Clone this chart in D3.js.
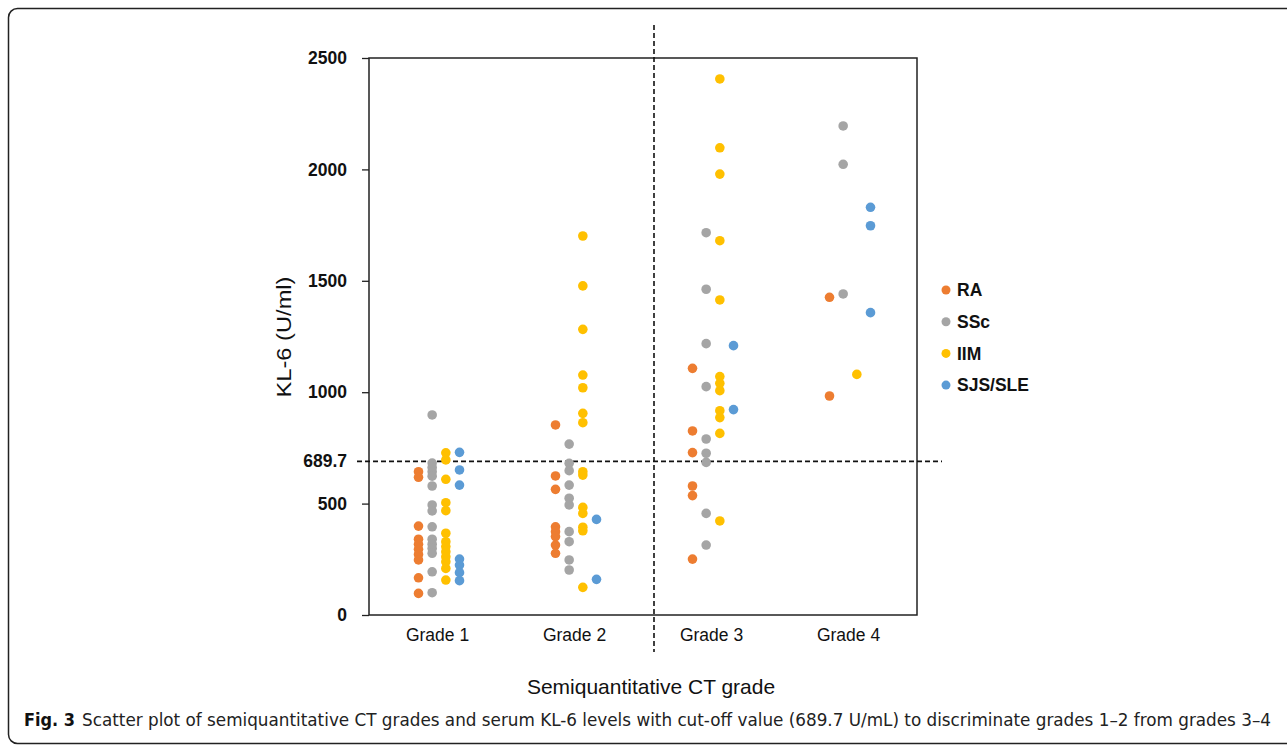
<!DOCTYPE html>
<html>
<head>
<meta charset="utf-8">
<script src="https://cdn.jsdelivr.net/npm/d3@7"></script>
<style>
  body { margin: 0; background: #fff; }
  svg { display: block; }
</style>
</head>
<body>
<script>
// categories and series
var grades = ["Grade 1", "Grade 2", "Grade 3", "Grade 4"];
var series = ["RA", "SSc", "IIM", "SJS/SLE"];
var colors = ["#ED7D31", "#A5A5A5", "#FFC000", "#5B9BD5"];

// KL-6 values (U/ml) per grade, one array for each series
var raValues = [
  [643, 618, 399, 340, 317, 295, 272, 247, 167, 97],
  [853, 624, 564, 396, 374, 352, 314, 277],
  [1107, 826, 729, 579, 536, 251],
  [1426, 983]
];
var sscValues = [
  [898, 682, 662, 643, 623, 579, 494, 467, 396, 340, 318, 299, 277, 194, 100],
  [767, 681, 648, 583, 524, 494, 374, 329, 247, 202],
  [1716, 1462, 1218, 1025, 790, 726, 685, 456, 314],
  [2195, 2023, 1441]
];
var iimValues = [
  [728, 696, 609, 504, 468, 367, 329, 307, 284, 262, 239, 209, 157],
  [1701, 1477, 1282, 1077, 1020, 905, 863, 643, 628, 483, 456, 394, 378, 124],
  [2406, 2097, 1979, 1680, 1414, 1070, 1040, 1007, 917, 886, 815, 422],
  [1080]
];
var sjsValues = [
  [730, 651, 583, 251, 224, 190, 154],
  [429, 160],
  [1209, 922],
  [1830, 1747, 1357]
];
var yTicks = [0, 500, 689.7, 1000, 1500, 2000, 2500];
var cutoff = 689.7;

var captionBold = "Fig. 3";
var captionText = "Scatter plot of semiquantitative CT grades and serum KL-6 levels with cut-off value (689.7 U/mL) to discriminate grades 1\u20132 from grades 3\u20134";

var width = 1287, height = 745;
var plotLeft = 369, plotRight = 917, plotTop = 58, plotBottom = 615;

var svg = d3.select("body").append("svg")
  .attr("width", width)
  .attr("height", height);

// outer figure frame (open on the right)
svg.append("rect")
  .attr("x", 8.5).attr("y", 8.5)
  .attr("width", 1320).attr("height", 735)
  .attr("rx", 9)
  .attr("fill", "none")
  .attr("stroke", "#222")
  .attr("stroke-width", 1.5);

var x = d3.scaleBand().domain(grades).range([plotLeft, plotRight]);
var y = d3.scaleLinear().domain([0, 2500]).range([plotBottom, plotTop]);
var offset = d3.scalePoint().domain(series).range([-19, 22]);

// plot box
svg.append("rect")
  .attr("x", plotLeft).attr("y", plotTop)
  .attr("width", plotRight - plotLeft).attr("height", plotBottom - plotTop)
  .attr("fill", "none")
  .attr("stroke", "#222")
  .attr("stroke-width", 1.5);

// y axis
var yAxis = svg.append("g")
  .attr("transform", "translate(" + plotLeft + ",0)")
  .call(d3.axisLeft(y).tickValues(yTicks).tickSize(7).tickPadding(15)
    .tickFormat(function(d) { return d; }));
yAxis.select(".domain").remove();
yAxis.selectAll(".tick line").attr("stroke", "#222").attr("stroke-width", 1.3)
  .filter(function(d) { return d === cutoff; }).remove();
yAxis.selectAll(".tick text")
  .attr("font-family", "Liberation Sans, Arial, sans-serif")
  .attr("font-size", "17.5px")
  .attr("font-weight", "bold")
  .attr("fill", "#111");

// x axis
var xAxis = svg.append("g")
  .attr("transform", "translate(0," + plotBottom + ")")
  .call(d3.axisBottom(x).tickSize(0).tickPadding(14));
xAxis.select(".domain").remove();
xAxis.selectAll(".tick text")
  .attr("font-family", "Liberation Sans, Arial, sans-serif")
  .attr("font-size", "17.5px")
  .attr("fill", "#111");

// cut-off lines
var splitX = (x("Grade 2") + x("Grade 3") + x.bandwidth()) / 2 + 11;
svg.append("line")
  .attr("x1", splitX).attr("x2", splitX)
  .attr("y1", 25).attr("y2", 652)
  .attr("stroke", "#111").attr("stroke-width", 1.6)
  .attr("stroke-dasharray", "5,3");
svg.append("line")
  .attr("x1", 357).attr("x2", 942)
  .attr("y1", y(cutoff)).attr("y2", y(cutoff))
  .attr("stroke", "#111").attr("stroke-width", 1.6)
  .attr("stroke-dasharray", "5,3");

// points
var allValues = [raValues, sscValues, iimValues, sjsValues];
var points = [];
series.forEach(function(s, si) {
  allValues[si].forEach(function(vals, gi) {
    vals.forEach(function(v) {
      points.push({ series: s, grade: grades[gi], value: v, color: colors[si] });
    });
  });
});

svg.append("g").selectAll("circle")
  .data(points)
  .enter()
  .append("circle")
  .attr("cx", function(d) { return x(d.grade) + x.bandwidth() / 2 + offset(d.series); })
  .attr("cy", function(d) { return y(d.value); })
  .attr("r", 4.8)
  .attr("fill", function(d) { return d.color; });

// legend
var legend = svg.append("g").selectAll("g")
  .data(series)
  .enter()
  .append("g")
  .attr("transform", function(d, i) { return "translate(946," + (290 + i * 31.7) + ")"; });
legend.append("circle")
  .attr("r", 4.5)
  .attr("fill", function(d, i) { return colors[i]; });
legend.append("text")
  .attr("x", 11)
  .attr("dy", "0.36em")
  .attr("font-family", "Liberation Sans, Arial, sans-serif")
  .attr("font-size", "17.5px")
  .attr("font-weight", "bold")
  .attr("fill", "#111")
  .text(function(d) { return d; });

// axis titles
svg.append("text")
  .attr("transform", "translate(291,337) rotate(-90)")
  .attr("text-anchor", "middle")
  .attr("font-family", "Liberation Sans, Arial, sans-serif")
  .attr("font-size", "21px")
  .attr("textLength", 121)
  .attr("lengthAdjust", "spacingAndGlyphs")
  .attr("fill", "#111")
  .text("KL-6 (U/ml)");

svg.append("text")
  .attr("x", 651).attr("y", 694)
  .attr("text-anchor", "middle")
  .attr("font-family", "Liberation Sans, Arial, sans-serif")
  .attr("font-size", "21px")
  .attr("fill", "#111")
  .text("Semiquantitative CT grade");

// caption
svg.append("text")
  .attr("x", 24).attr("y", 726)
  .attr("font-family", "Liberation Sans Narrow, DejaVu Sans Condensed, sans-serif")
  .attr("font-size", "17.5px")
  .attr("font-weight", "bold")
  .attr("textLength", 51)
  .attr("lengthAdjust", "spacingAndGlyphs")
  .attr("fill", "#111")
  .text(captionBold);

svg.append("text")
  .attr("x", 82).attr("y", 726)
  .attr("font-family", "Liberation Sans Narrow, DejaVu Sans Condensed, sans-serif")
  .attr("font-size", "17.5px")
  .attr("textLength", 1189)
  .attr("lengthAdjust", "spacingAndGlyphs")
  .attr("fill", "#222")
  .text(captionText);
</script>
</body>
</html>
